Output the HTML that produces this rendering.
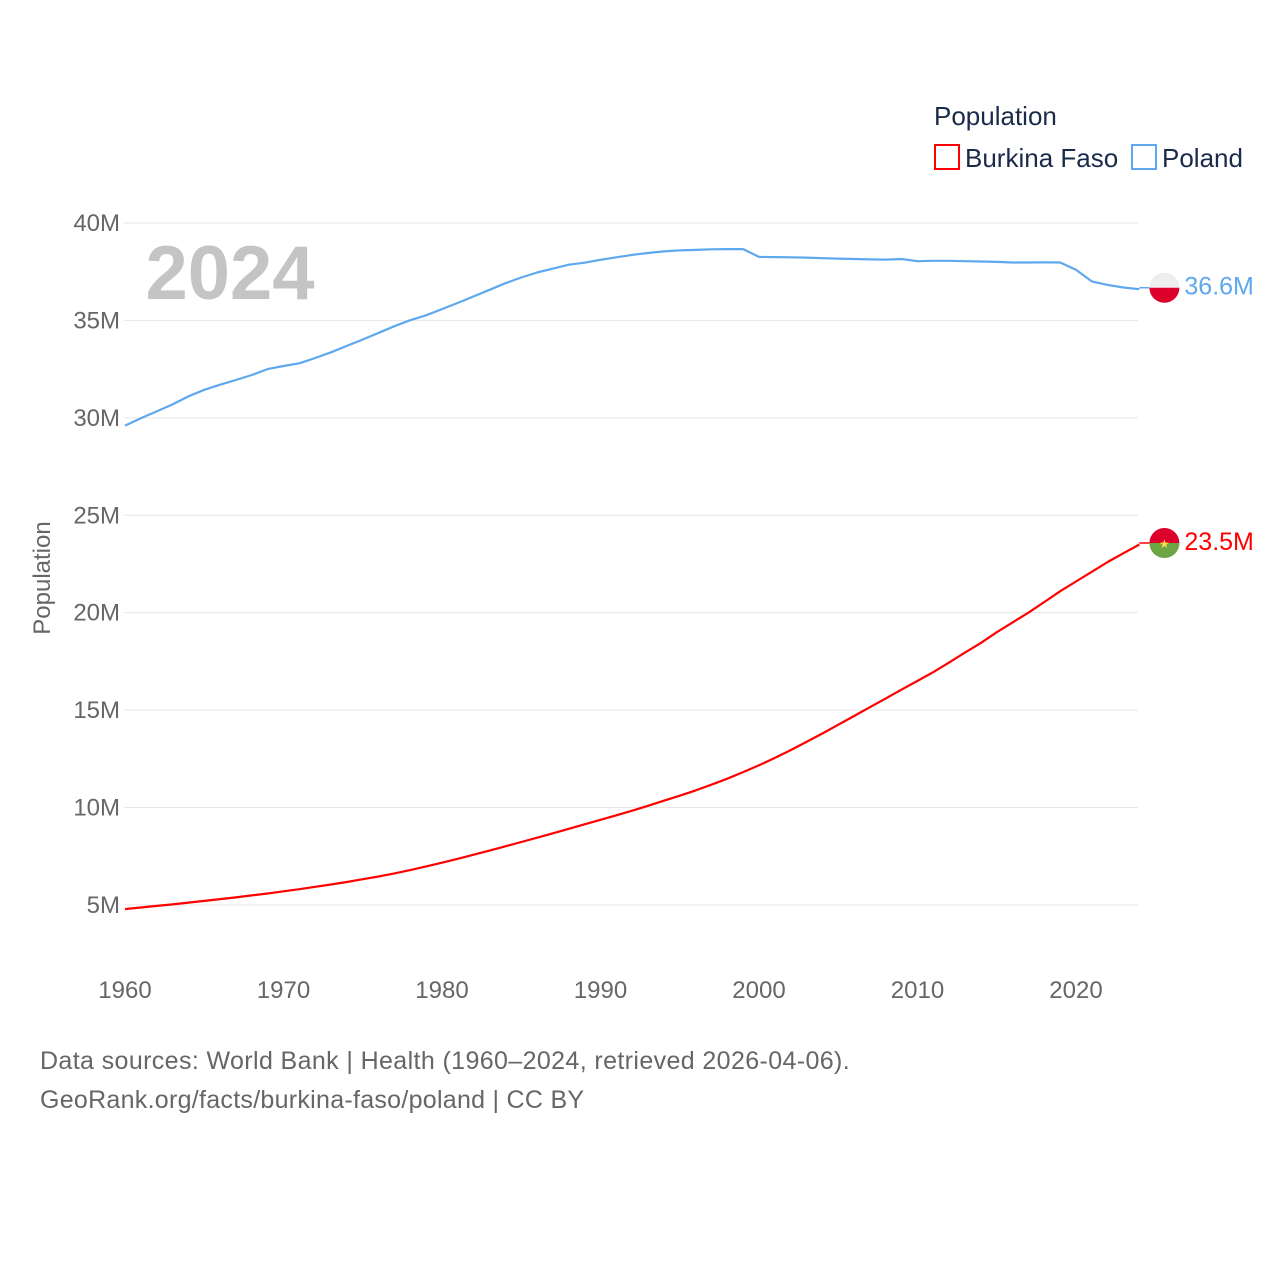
<!DOCTYPE html>
<html><head><meta charset="utf-8"><style>
html,body{margin:0;padding:0;background:#fff;}
body{width:1280px;height:1280px;overflow:hidden;font-family:"Liberation Sans",sans-serif;}
</style></head><body>
<svg id="chart" width="1280" height="1280" xmlns="http://www.w3.org/2000/svg">
<g id="grid"></g>
<g id="yticks"></g>
<g id="xticks"></g>
<text x="230" y="299" font-size="76" font-weight="bold" fill="#c4c4c4" text-anchor="middle">2024</text>
<text transform="translate(50,578) rotate(-90)" font-size="24" fill="#666" text-anchor="middle">Population</text>
<g id="series"></g>
<text x="934" y="125" font-size="26" fill="#1a2a4a">Population</text>
<g>
<rect x="935" y="145" width="24" height="24" fill="none" stroke="#ff0000" stroke-width="2"/>
<text x="965" y="167" font-size="26" fill="#1a2a4a">Burkina Faso</text></g>
<g>
<rect x="1132" y="145" width="24" height="24" fill="none" stroke="#5ea8ee" stroke-width="2"/>
<text x="1162" y="167" font-size="26" fill="#1a2a4a">Poland</text></g>
<text x="40" y="1069" font-size="25" fill="#666" letter-spacing="0.38">Data sources: World Bank | Health (1960–2024, retrieved 2026-04-06).</text>
<text x="40" y="1108" font-size="25" fill="#666" letter-spacing="0.28">GeoRank.org/facts/burkina-faso/poland | CC BY</text>
</svg>
<script>
const years=[];for(let y=1960;y<=2024;y++)years.push(y);
const poland=[29.6,29.98,30.33,30.69,31.1,31.44,31.7,31.94,32.2,32.5,32.66,32.8,33.07,33.36,33.69,34.02,34.36,34.7,35.01,35.26,35.58,35.9,36.23,36.57,36.91,37.2,37.46,37.66,37.86,37.96,38.11,38.24,38.36,38.46,38.54,38.59,38.62,38.65,38.66,38.66,38.26,38.25,38.24,38.22,38.19,38.17,38.15,38.13,38.12,38.15,38.04,38.06,38.06,38.04,38.02,38.0,37.97,37.97,37.98,37.97,37.6,37.0,36.82,36.69,36.6];
const burkina=[4.79,4.87,4.95,5.03,5.12,5.21,5.3,5.39,5.49,5.59,5.7,5.81,5.93,6.05,6.18,6.32,6.46,6.62,6.79,6.98,7.17,7.37,7.58,7.79,8.01,8.23,8.45,8.68,8.91,9.14,9.37,9.6,9.84,10.09,10.35,10.61,10.88,11.17,11.48,11.82,12.17,12.55,12.95,13.37,13.8,14.25,14.7,15.15,15.6,16.05,16.5,16.95,17.45,17.95,18.45,19.0,19.5,20.0,20.55,21.1,21.6,22.1,22.6,23.05,23.5];
const yTicks=[5,10,15,20,25,30,35,40];
const yTickLabels=["5M","10M","15M","20M","25M","30M","35M","40M"];
const xTicks=[1960,1970,1980,1990,2000,2010,2020];
const NS="http://www.w3.org/2000/svg";
const X=y=>125+(y-1960)*15.85;
const Y=v=>1002.4-v*19.486;
function mk(t,a,p){const e=document.createElementNS(NS,t);for(const k in a)e.setAttribute(k,a[k]);p.appendChild(e);return e;}
const grid=document.getElementById('grid'),yt=document.getElementById('yticks'),xt=document.getElementById('xticks'),ser=document.getElementById('series');
yTicks.forEach((v,i)=>{
 const l=mk('line',{x1:124,x2:1138,y1:Y(v),y2:Y(v),stroke:'#e6e6e6','stroke-width':1},grid);
 
 
 const t=mk('text',{x:120,y:Y(v)+8,'font-size':24,fill:'#666','text-anchor':'end'},yt);
 t.textContent=yTickLabels[i];
 
 
});
xTicks.forEach(v=>{
 const t=mk('text',{x:X(v),y:998,'font-size':24,fill:'#666','text-anchor':'middle'},xt);
 t.textContent=v;
 
 
});
function line(data,color,name){
 const d=data.map((v,i)=>(i?'L':'M')+X(years[i]).toFixed(1)+','+Y(v).toFixed(1)).join('');
 const p=mk('path',{d:d,fill:'none',stroke:color,'stroke-width':2.2,'stroke-linejoin':'round'},ser);
 
 
}
line(poland,'#5ea8ee','poland-line');
line(burkina,'#ff0000','burkina-faso-line');
function endLabel(data,color,name,flag){
 const v=data[data.length-1],x=X(2024),y=Y(v)-1.5;
 mk('line',{x1:x,x2:x+10,y1:y,y2:y,stroke:color,'stroke-width':1.5},ser);
 const g=mk('g',{},ser);
 
 
 const cx=x+25,cy=y;
 if(flag==='pl'){
  mk('path',{d:`M${cx-15},${cy} A15,15 0 0 1 ${cx+15},${cy} Z`,fill:'#eeeeee'},g);
  mk('path',{d:`M${cx-15},${cy} A15,15 0 0 0 ${cx+15},${cy} Z`,fill:'#dc002b'},g);
 }else{
  mk('path',{d:`M${cx-15},${cy} A15,15 0 0 1 ${cx+15},${cy} Z`,fill:'#dc002b'},g);
  mk('path',{d:`M${cx-15},${cy} A15,15 0 0 0 ${cx+15},${cy} Z`,fill:'#6da544'},g);
  mk('text',{x:cx,y:cy+5,'font-size':12,fill:'#ffda44','text-anchor':'middle'},g).textContent='★';
 }
 const t=mk('text',{x:cx+20,y:cy+7,'font-size':25,fill:color},ser);
 t.textContent=v.toFixed(1)+'M';
 
 
}
endLabel(poland,'#5ea8ee','poland','pl');
endLabel(burkina,'#ff0000','burkina-faso','bf');
</script>
</body></html>
